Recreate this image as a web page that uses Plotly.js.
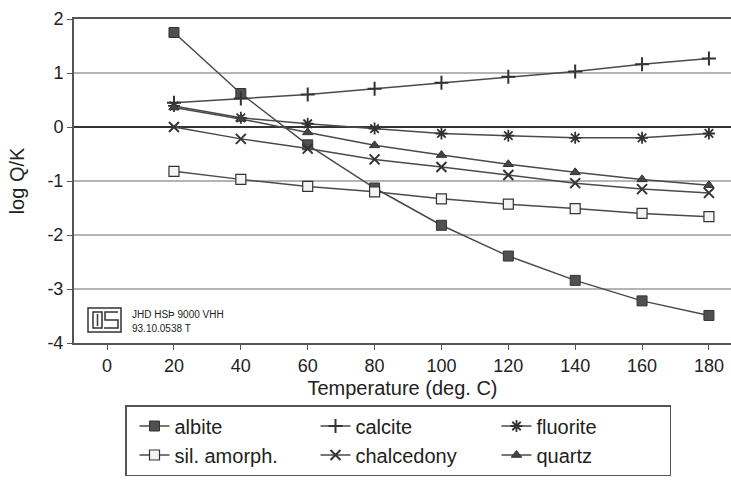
<!DOCTYPE html>
<html><head><meta charset="utf-8">
<script src="https://cdn.plot.ly/plotly-3.0.1.min.js"></script>
<style>html,body{margin:0;padding:0;background:#fff;}#chart{width:731px;height:482px;}</style>
</head><body><div id="chart"></div>
<script>
const temperature = [20, 40, 60, 80, 100, 120, 140, 160, 180];
const albite      = [1.75, 0.62, -0.33, -1.13, -1.82, -2.39, -2.84, -3.22, -3.49];
const calcite     = [0.45, 0.53, 0.60, 0.71, 0.82, 0.93, 1.03, 1.16, 1.27];
const fluorite    = [0.39, 0.17, 0.06, -0.03, -0.12, -0.16, -0.20, -0.20, -0.12];
const silAmorph   = [-0.82, -0.97, -1.10, -1.20, -1.33, -1.43, -1.51, -1.60, -1.66];
const chalcedony  = [0.00, -0.22, -0.40, -0.60, -0.74, -0.89, -1.04, -1.15, -1.22];
const quartz      = [0.36, 0.15, -0.10, -0.34, -0.52, -0.69, -0.84, -0.97, -1.08];
const seriesNames = ["albite", "calcite", "fluorite", "sil. amorph.", "chalcedony", "quartz"];
const xTicks = [0, 20, 40, 60, 80, 100, 120, 140, 160, 180];
const yTicks = [-4, -3, -2, -1, 0, 1, 2];

const lineCol = '#4a4a4a';
const FONT = 'Liberation Sans, Arial, sans-serif';
function tr(name, y, symbol, size, fill, lw) {
  return {x: temperature, y: y, name: name, type: 'scatter', mode: 'lines+markers',
    line: {color: lineCol, width: 1.5},
    marker: {symbol: symbol, size: size, color: fill, line: {color: '#333', width: lw}}};
}
const data = [
  tr(seriesNames[0], albite, 'square', 10, '#505050', 1),
  tr(seriesNames[1], calcite, 'cross-thin', 10, '#333', 2),
  tr(seriesNames[2], fluorite, 'asterisk-open', 10, '#333', 1.8),
  tr(seriesNames[3], silAmorph, 'square', 10, '#f4f4f4', 1.2),
  tr(seriesNames[4], chalcedony, 'x-thin-open', 10, '#333', 2),
  tr(seriesNames[5], quartz, 'triangle-up', 9, '#444', 1)
];

const L = 74, T = 19, W = 657, H = 324;
const px = v => (v - L) / W, py = v => (T + H - v) / H;
const logoStroke = {color: '#333', width: 1.5};
const shapes = [
  {type: 'rect', xref: 'paper', yref: 'paper', x0: px(88), x1: px(121), y0: py(332), y1: py(308), line: logoStroke},
  {type: 'rect', xref: 'paper', yref: 'paper', x0: px(93), x1: px(102), y0: py(328), y1: py(312), line: logoStroke},
  {type: 'line', xref: 'paper', yref: 'paper', x0: px(97.5), x1: px(97.5), y0: py(326), y1: py(314), line: logoStroke},
  {type: 'path', xref: 'paper', yref: 'paper',
   path: `M ${px(118)} ${py(312)} L ${px(105)} ${py(312)} L ${px(105)} ${py(320)} L ${px(118)} ${py(320)} L ${px(118)} ${py(328)} L ${px(104)} ${py(328)}`,
   line: logoStroke}
];
const annotations = [
  {xref: 'paper', yref: 'paper', x: px(130), y: py(314), xanchor: 'left', yanchor: 'middle', showarrow: false,
   text: 'JHD HSÞ 9000 VHH', font: {family: FONT, size: 10, color: '#222'}},
  {xref: 'paper', yref: 'paper', x: px(130), y: py(328), xanchor: 'left', yanchor: 'middle', showarrow: false,
   text: '93.10.0538 T', font: {family: FONT, size: 10, color: '#222'}}
];

const layout = {
  width: 731, height: 482,
  margin: {l: L, r: 0, t: T, b: 482 - T - H, autoexpand: false},
  paper_bgcolor: '#fff', plot_bgcolor: '#fff',
  font: {family: FONT, color: '#222'},
  showlegend: true,
  xaxis: {range: [-9.9, 186.6], tickvals: xTicks, ticktext: xTicks.map(String),
    showgrid: false, zeroline: false, showline: true, linecolor: '#555', linewidth: 2, mirror: true,
    ticks: 'outside', ticklen: 5, tickcolor: '#555', tickfont: {size: 18, family: FONT, color: '#222'},
    title: {text: 'Temperature (deg. C)', font: {size: 20, family: FONT, color: '#222'}, standoff: 6},
    automargin: false},
  yaxis: {range: [-4, 2], tickvals: yTicks, ticktext: yTicks.map(String),
    showgrid: true, gridcolor: '#b4b4b4', gridwidth: 1.5, zeroline: true, zerolinecolor: '#333', zerolinewidth: 1.5,
    showline: true, linecolor: '#555', linewidth: 2,
    ticks: 'outside', ticklen: 5, tickcolor: '#555', tickfont: {size: 18, family: FONT, color: '#222'},
    title: {text: 'log Q/K', font: {size: 20, family: FONT, color: '#222'}, standoff: 17},
    automargin: false},
  legend: {orientation: 'h', x: px(125), y: py(405), xanchor: 'left', yanchor: 'top',
    bordercolor: '#555', borderwidth: 1.5, bgcolor: '#fff', indentation: 8,
    font: {size: 20, family: FONT, color: '#222'}, entrywidth: 128, entrywidthmode: 'pixels', traceorder: 'normal'},
  shapes: shapes, annotations: annotations
};
Plotly.newPlot('chart', data, layout, {displayModeBar: false, staticPlot: true});
</script></body></html>
